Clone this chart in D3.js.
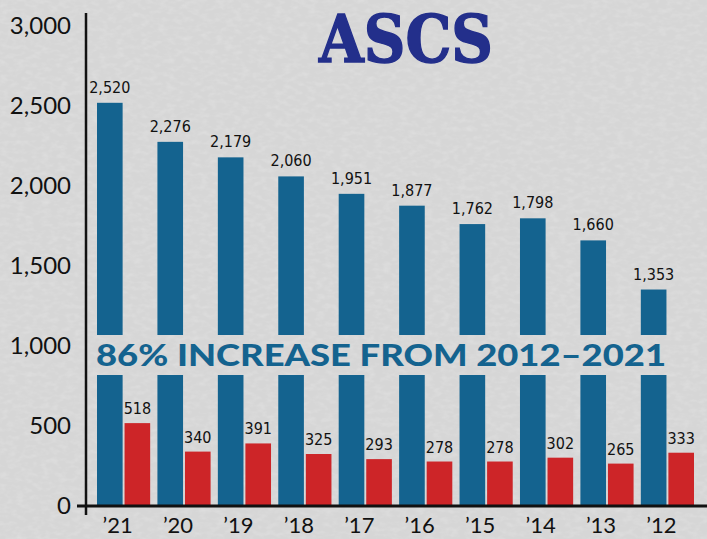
<!DOCTYPE html>
<html>
<head>
<meta charset="utf-8">
<script src="https://cdn.jsdelivr.net/npm/d3@7"></script>
<style>
  html, body { margin: 0; padding: 0; background: #d8d8d8; }
  svg { display: block; }
</style>
</head>
<body>
<div id="chart"></div>
<script>
// data
const years = ["\u201921", "\u201920", "\u201919", "\u201918", "\u201917", "\u201916", "\u201915", "\u201914", "\u201913", "\u201912"];
const blueVals = [2520, 2276, 2179, 2060, 1951, 1877, 1762, 1798, 1660, 1353];
const redVals = [518, 340, 391, 325, 293, 278, 278, 302, 265, 333];
const yTicks = [0, 500, 1000, 1500, 2000, 2500, 3000];
const titleText = "ASCS";
const bannerText = "86% INCREASE FROM 2012\u20132021";

const W = 707, H = 539;
const blue = "#14638f", red = "#cd2528", navy = "#232f8b";

const svg = d3.select("#chart").append("svg")
  .attr("width", W)
  .attr("height", H);

// textured paper background
const defs = svg.append("defs");
const f = defs.append("filter").attr("id", "paper")
  .attr("x", 0).attr("y", 0).attr("width", "100%").attr("height", "100%");
f.append("feTurbulence")
  .attr("type", "fractalNoise")
  .attr("baseFrequency", "0.12 0.22")
  .attr("numOctaves", 2)
  .attr("seed", 3)
  .attr("result", "noise");
f.append("feColorMatrix")
  .attr("in", "noise")
  .attr("type", "matrix")
  .attr("values", "0 0 0 0 1  0 0 0 0 1  0 0 0 0 1  0 0 0 1.2 -0.5");
svg.append("rect").attr("width", W).attr("height", H).attr("fill", "#d6d6d6");
svg.append("rect").attr("width", W).attr("height", H).attr("fill", "#fff")
  .attr("filter", "url(#paper)").attr("opacity", 0.3);

// scales
const y = d3.scaleLinear().domain([0, 3000]).range([506, 26]);
const x0 = d3.scaleBand().domain(years).range([97, 694]).paddingInner(0.12).paddingOuter(0);
const x1 = d3.scaleBand().domain(["blue", "red"]).range([0, x0.bandwidth()]).paddingInner(0.07);

// bars are cut by the banner band
const clip = defs.append("clipPath").attr("id", "cut");
clip.append("rect").attr("x", 0).attr("y", 0).attr("width", W).attr("height", 335);
clip.append("rect").attr("x", 0).attr("y", 375).attr("width", W).attr("height", H - 375);

const groups = svg.append("g").attr("clip-path", "url(#cut)")
  .selectAll("g").data(years).join("g")
  .attr("transform", d => `translate(${x0(d)},0)`);

groups.append("rect")
  .attr("x", x1("blue"))
  .attr("width", x1.bandwidth())
  .attr("y", (d, i) => y(blueVals[i]))
  .attr("height", (d, i) => y(0) - y(blueVals[i]))
  .attr("fill", blue);

groups.append("rect")
  .attr("x", x1("red"))
  .attr("width", x1.bandwidth())
  .attr("y", (d, i) => y(redVals[i]))
  .attr("height", (d, i) => y(0) - y(redVals[i]))
  .attr("fill", red);

// value labels
const lblFont = "'Liberation Sans Narrow', 'DejaVu Sans Condensed', 'Roboto', sans-serif";
const fmt = d3.format(",");
svg.append("g").selectAll("text").data(years).join("text")
  .attr("x", d => x0(d) + x1("blue") + x1.bandwidth() / 2)
  .attr("y", (d, i) => y(blueVals[i]) - 10)
  .attr("text-anchor", "middle")
  .attr("font-family", lblFont)
  .attr("font-size", 16)
  .attr("fill", "#111")
  .text((d, i) => fmt(blueVals[i]));

svg.append("g").selectAll("text").data(years).join("text")
  .attr("x", d => x0(d) + x1("red") + x1.bandwidth() / 2)
  .attr("y", (d, i) => y(redVals[i]) - 9)
  .attr("text-anchor", "middle")
  .attr("font-family", lblFont)
  .attr("font-size", 16)
  .attr("fill", "#111")
  .text((d, i) => fmt(redVals[i]));

// y axis
const yAxis = d3.axisLeft(y).tickValues(yTicks).tickSize(0).tickPadding(15).tickFormat(fmt);
const ga = svg.append("g").attr("transform", "translate(86,0)").call(yAxis);
ga.select(".domain").remove();
ga.selectAll("text")
  .attr("font-family", "Lato, 'Noto Sans', sans-serif")
  .attr("font-size", 24)
  .attr("fill", "#111");

svg.append("line")
  .attr("x1", 86).attr("x2", 86)
  .attr("y1", 13).attr("y2", 515)
  .attr("stroke", "#111").attr("stroke-width", 2.5);
svg.append("line")
  .attr("x1", 77).attr("x2", W)
  .attr("y1", y(0)).attr("y2", y(0))
  .attr("stroke", "#111").attr("stroke-width", 3);

// year labels
svg.append("g").selectAll("text").data(years).join("text")
  .attr("x", d => x0(d) + x0.bandwidth() / 2 - 6)
  .attr("y", 533)
  .attr("text-anchor", "middle")
  .attr("font-family", "Lato, 'Noto Sans', sans-serif")
  .attr("font-size", 22)
  .attr("fill", "#111")
  .text(d => d);

// title
svg.append("text")
  .attr("x", 319).attr("y", 62)
  .attr("textLength", 174)
  .attr("lengthAdjust", "spacingAndGlyphs")
  .attr("font-family", "'DejaVu Serif', serif")
  .attr("font-weight", "bold")
  .attr("font-size", 66)
  .attr("fill", navy)
  .attr("stroke", navy)
  .attr("stroke-width", 1.5)
  .text(titleText);

// banner
svg.append("text")
  .attr("x", 96).attr("y", 366)
  .attr("textLength", 570)
  .attr("lengthAdjust", "spacingAndGlyphs")
  .attr("font-family", "Lato, 'Open Sans', sans-serif")
  .attr("font-weight", 900)
  .attr("font-size", 31)
  .attr("fill", blue)
  .text(bannerText);
</script>
</body>
</html>
